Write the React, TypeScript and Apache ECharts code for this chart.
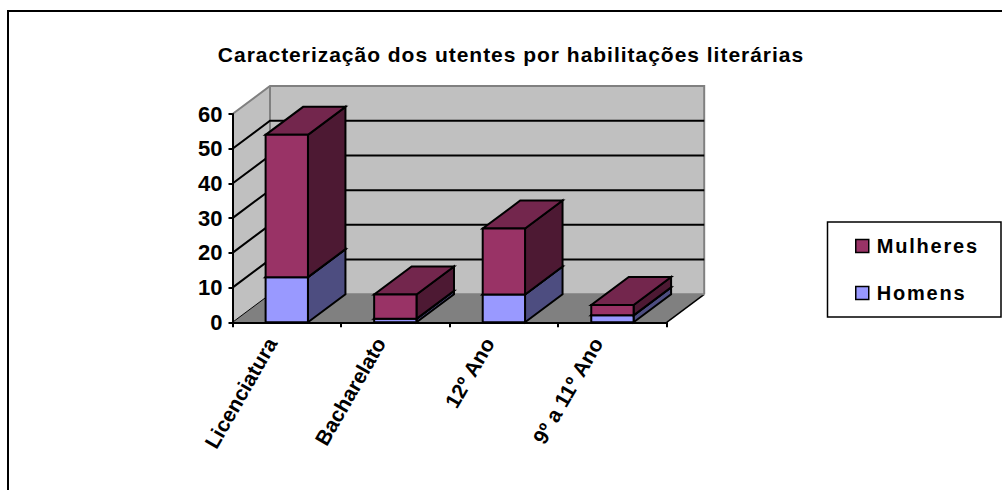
import React, { useEffect, useRef } from "react";
import * as echarts from "echarts";

const categories = ["Licenciatura", "Bacharelato", "12º Ano", "9º a 11º Ano"];
const homens = [13, 1, 8, 2];
const mulheres = [41, 7, 19, 3];
const yTicks = [0, 10, 20, 30, 40, 50, 60];
const titleText = "Caracterização dos utentes por habilitações literárias";

const DX = 37.5;
const DY = -28;
const BAR_RATIO = 0.39;
const STROKE = { stroke: "#000", lineWidth: 2, lineJoin: "miter" as const };

function poly(points: number[][], fill: string, style: any = STROKE) {
  return { type: "polygon", shape: { points }, style: { fill, ...style }, silent: true };
}

function wallsRender(params: any, api: any) {
  const c = params.coordSys;
  const x0 = c.x;
  const x1 = c.x + c.width;
  const y0 = c.y + c.height;
  const yTop = c.y;
  const none = { stroke: "none" };
  const wall = "#C0C0C0";
  const edge = "#808080";
  const children: any[] = [
    poly([[x0, y0], [x0 + DX, y0 + DY], [x0 + DX, yTop + DY], [x0, yTop]], wall, none),
    poly([[x0 + DX, y0 + DY], [x1 + DX, y0 + DY], [x1 + DX, yTop + DY], [x0 + DX, yTop + DY]], wall, none),
    poly([[x0, y0], [x1, y0], [x1 + DX, y0 + DY], [x0 + DX, y0 + DY]], "#808080", none),
    { type: "polyline", shape: { points: [[x0, yTop], [x0 + DX, yTop + DY], [x1 + DX, yTop + DY], [x1 + DX, y0 + DY]] }, style: { fill: "none", stroke: edge, lineWidth: 2 }, silent: true },
    { type: "line", shape: { x1: x0 + DX, y1: y0 + DY, x2: x0 + DX, y2: yTop + DY }, style: { stroke: edge, lineWidth: 2 }, silent: true },
    { type: "line", shape: { x1, y1: y0, x2: x1 + DX, y2: y0 + DY }, style: { stroke: "#000", lineWidth: 1.5 }, silent: true },
    { type: "line", shape: { x1: x0 + DX, y1: y0 + DY, x2: x1 + DX, y2: y0 + DY }, style: { stroke: edge, lineWidth: 2 }, silent: true },
  ];
  yTicks.forEach((t) => {
    const y = api.coord([0, t])[1];
    if (t === 60) return;
    children.push({
      type: "polyline",
      shape: { points: t === 0 ? [[x0, y], [x0 + DX, y + DY]] : [[x0, y], [x0 + DX, y + DY], [x1 + DX, y + DY]] },
      style: { fill: "none", stroke: "#000", lineWidth: t === 0 ? 1 : 2 },
      silent: true,
    });
  });
  return { type: "group", children };
}

function barRender(front: string, top: string, side: string) {
  return (_params: any, api: any) => {
    const cat = api.value(0);
    const low = api.coord([cat, api.value(1)]);
    const high = api.coord([cat, api.value(2)]);
    const w = api.size([1, 0])[0] * BAR_RATIO;
    const l = low[0] - w / 2;
    const r = low[0] + w / 2;
    return {
      type: "group",
      children: [
        poly([[r, low[1]], [r + DX, low[1] + DY], [r + DX, high[1] + DY], [r, high[1]]], side),
        poly([[l, high[1]], [r, high[1]], [r + DX, high[1] + DY], [l + DX, high[1] + DY]], top),
        poly([[l, low[1]], [r, low[1]], [r, high[1]], [l, high[1]]], front),
      ],
    };
  };
}

export default function App() {
  const ref = useRef<HTMLDivElement>(null);
  useEffect(() => {
    if (!ref.current) return;
    const chart = echarts.init(ref.current, undefined, { renderer: "svg" });
    const homensData = homens.map((v, i) => [i, 0, v]);
    const mulheresData = mulheres.map((v, i) => [i, homens[i], homens[i] + v]);
    chart.setOption({
      animation: false,
      backgroundColor: "#fff",
      textStyle: { fontFamily: "Liberation Sans" },
      title: {
        text: titleText,
        left: 510,
        top: 39,
        textAlign: "center",
        textStyle: { fontFamily: "Liberation Sans", fontWeight: "bold", fontSize: 21, color: "#000" },
      },
      grid: { left: 232.5, top: 114, width: 434.2, height: 208.3, containLabel: false },
      xAxis: {
        type: "category",
        data: categories,
        z: 5,
        axisLine: { lineStyle: { color: "#000", width: 2 } },
        axisTick: { show: true, alignWithLabel: false, length: 5, lineStyle: { color: "#000", width: 2 } },
        axisLabel: { rotate: 60, interval: 0, margin: 12, verticalAlign: "bottom", padding: [0, 12, 0, 0], color: "#000", fontWeight: "bold", fontSize: 21, fontFamily: "Liberation Sans" },
      },
      yAxis: {
        type: "value",
        min: 0,
        max: 60,
        interval: 10,
        z: 5,
        splitLine: { show: false },
        axisLine: { show: true, lineStyle: { color: "#000", width: 2 } },
        axisTick: { show: true, length: 4, lineStyle: { color: "#000", width: 2 } },
        axisLabel: { margin: 10, padding: [0, 0, 2, 0], color: "#000", fontWeight: "bold", fontSize: 22, fontFamily: "Liberation Sans" },
      },
      legend: {
        orient: "vertical",
        left: 855,
        top: 236,
        padding: 0,
        itemWidth: 13,
        itemHeight: 13,
        itemGap: 27,
        icon: "rect",
        selectedMode: false,
        data: ["Mulheres", "Homens"],
        itemStyle: { borderColor: "#000", borderWidth: 1.5 },
        textStyle: { color: "#000", fontWeight: "bold", fontSize: 20, fontFamily: "Liberation Sans", padding: [0, 0, 0, 3] },
      },
      graphic: [
        { type: "polyline", silent: true, shape: { points: [[8, 490], [8, 11], [1002, 11]] }, style: { fill: "none", stroke: "#000", lineWidth: 2 } },
        { type: "rect", silent: true, shape: { x: 827.5, y: 222, width: 173.5, height: 95 }, style: { fill: "#fff", stroke: "#000", lineWidth: 1.5 }, z: -1 },
      ],
      series: [
        { type: "custom", z: 1, silent: true, data: [[0, 0, 0]], renderItem: wallsRender, encode: { x: 0, y: 1 } },
        { type: "custom", name: "Homens", z: 2, silent: true, itemStyle: { color: "#9999FF" }, data: homensData, renderItem: barRender("#9999FF", "#7373BF", "#4D4D80"), encode: { x: 0, y: [1, 2] } },
        { type: "custom", name: "Mulheres", z: 3, silent: true, itemStyle: { color: "#993366" }, data: mulheresData, renderItem: barRender("#993366", "#73264D", "#4D1933"), encode: { x: 0, y: [1, 2] } },
      ],
    });
    ref.current.querySelectorAll("text").forEach((t) => {
      const s = t.textContent;
      if (s === "Mulheres" || s === "Homens") {
        (t as SVGTextElement).style.letterSpacing = "1.8px";
      } else if (s === titleText) {
        (t as SVGTextElement).style.letterSpacing = "0.98px";
        t.setAttribute("dx", "-4");
      }
    });
    return () => chart.dispose();
  }, []);
  return <div ref={ref} style={{ position: "fixed", left: 0, top: 0, width: 1002, height: 490 }} />;
}
